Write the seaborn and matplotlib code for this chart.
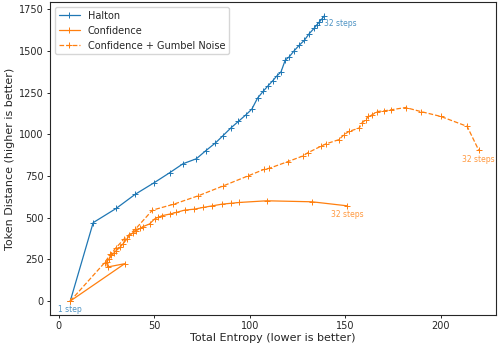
import matplotlib
matplotlib.use("Agg")
import matplotlib.pyplot as plt
import seaborn as sns

# entropy vs token distance per number of decoding steps
halton_x = [6, 18, 30, 40, 50, 58, 65, 72, 77, 82, 86, 90, 94, 98, 101, 104,
            107, 109.5, 112, 114, 116.3, 118.5, 120.6, 123, 125.8, 128.5, 131,
            133.7, 135, 136.3, 137.6, 139]
halton_y = [0, 470, 555, 640, 710, 769, 823, 853, 902, 948, 992, 1037, 1077,
            1117, 1150, 1216, 1258, 1290, 1321, 1348, 1374, 1444, 1464, 1498,
            1533, 1563, 1602, 1636, 1655, 1672, 1690, 1710]

conf_x = [6, 34.5, 25.5, 25, 26.5, 27.5, 29, 30.1, 32, 33.6, 35.5, 37, 39,
          40.6, 42.5, 44, 47.5, 50.1, 52, 54.1, 58, 61.4, 65.8, 71, 75.4, 80,
          85.5, 90, 94.5, 108.8, 132.5, 150.8]
conf_y = [0, 224, 204, 234, 255, 274, 290, 303, 322, 343, 370, 393, 410, 422,
          435, 446, 462, 492, 502, 512, 521, 531, 545, 551, 561, 570, 581, 586,
          591, 601, 595, 571]

gumbel_x = [6, 24, 27, 30, 34, 40, 49, 60, 73, 86, 99, 107.6, 110.2, 119.7,
            127.6, 130.2, 137.2, 139.8, 146.7, 149.3, 151.9, 157.2, 158.6,
            160.7, 162, 164.1, 166.7, 170.2, 173.7, 181.5, 189.4, 199.8, 213.7,
            219.8]
gumbel_y = [0, 230, 280, 320, 370, 430, 545, 580, 631, 690, 750, 790, 796,
            835, 869, 888, 928, 942, 968, 998, 1017, 1037, 1067, 1087, 1107,
            1117, 1136, 1140, 1146, 1160, 1136, 1107, 1047, 903]

blue = "#1f77b4"
orange = "#ff7f0e"

sns.set_style("ticks")
plt.rcParams['font.family'] = ['DejaVu Sans']

fig, ax = plt.subplots(figsize=(4.98, 3.47), dpi=100)

line_kw = dict(sort=False, estimator=None, marker='+', markersize=4,
               markeredgewidth=0.7, lw=0.9, ax=ax)
sns.lineplot(x=halton_x, y=halton_y, color=blue, markeredgecolor=blue,
             label='Halton', **line_kw)
sns.lineplot(x=conf_x, y=conf_y, color=orange, markeredgecolor=orange,
             label='Confidence', **line_kw)
sns.lineplot(x=gumbel_x, y=gumbel_y, color=orange, markeredgecolor=orange,
             linestyle='--', label='Confidence + Gumbel Noise', **line_kw)

note_kw = dict(textcoords='offset points', va='top', fontsize=5.5, alpha=0.8)
ax.annotate('1 step', (halton_x[0], halton_y[0]), xytext=(0, -3),
            ha='center', color=blue, **note_kw)
ax.annotate('32 steps', (halton_x[-1], halton_y[-1]), xytext=(0, -2),
            ha='left', color=blue, **note_kw)
ax.annotate('32 steps', (conf_x[-1], conf_y[-1]), xytext=(0, -3),
            ha='center', color=orange, **note_kw)
ax.annotate('32 steps', (gumbel_x[-1], gumbel_y[-1]), xytext=(0, -3),
            ha='center', color=orange, **note_kw)

ax.set_xlim(-4.7, 228.8)
ax.set_ylim(-84, 1792)
ax.set_xticks([0, 50, 100, 150, 200])
ax.set_yticks([0, 250, 500, 750, 1000, 1250, 1500, 1750])
ax.tick_params(labelsize=7, length=2.5, pad=2, width=0.7)
for s in ax.spines.values():
    s.set_linewidth(0.8)
ax.set_xlabel('Total Entropy (lower is better)', fontsize=8, labelpad=1)
ax.set_ylabel('Token Distance (higher is better)', fontsize=8, labelpad=3)
ax.legend(loc='upper left', fontsize=7, handlelength=2.2)

fig.subplots_adjust(left=0.1, right=0.996, top=0.994, bottom=0.092)
fig.savefig('out.png', dpi=100)
